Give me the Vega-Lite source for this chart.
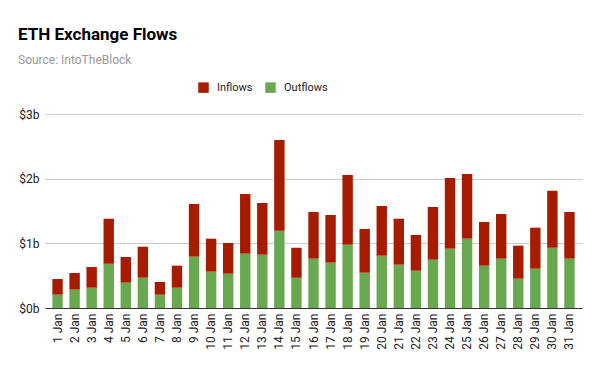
{
  "$schema": "https://vega.github.io/schema/vega-lite/v6.json",
  "width": 537,
  "height": 194,
  "autosize": {"type": "none"},
  "padding": {"left": 45, "top": 114, "right": 18, "bottom": 63},
  "background": "white",
  "title": {
    "text": "ETH Exchange Flows",
    "subtitle": "Source: IntoTheBlock",
    "anchor": "start",
    "frame": "group",
    "dx": -27,
    "offset": 15,
    "font": "Roboto",
    "fontSize": 17,
    "fontWeight": "bold",
    "color": "#000000",
    "subtitleFont": "Roboto",
    "subtitleFontSize": 12,
    "subtitleColor": "#999999",
    "subtitlePadding": 11
  },
  "data": {
    "values": [
      {"day": "1 Jan", "type": "Outflows", "value": 0.206}, {"day": "1 Jan", "type": "Inflows", "value": 0.242},
      {"day": "2 Jan", "type": "Outflows", "value": 0.284}, {"day": "2 Jan", "type": "Inflows", "value": 0.257},
      {"day": "3 Jan", "type": "Outflows", "value": 0.314}, {"day": "3 Jan", "type": "Inflows", "value": 0.320},
      {"day": "4 Jan", "type": "Outflows", "value": 0.686}, {"day": "4 Jan", "type": "Inflows", "value": 0.695},
      {"day": "5 Jan", "type": "Outflows", "value": 0.392}, {"day": "5 Jan", "type": "Inflows", "value": 0.397},
      {"day": "6 Jan", "type": "Outflows", "value": 0.469}, {"day": "6 Jan", "type": "Inflows", "value": 0.479},
      {"day": "7 Jan", "type": "Outflows", "value": 0.206}, {"day": "7 Jan", "type": "Inflows", "value": 0.196},
      {"day": "8 Jan", "type": "Outflows", "value": 0.314}, {"day": "8 Jan", "type": "Inflows", "value": 0.341},
      {"day": "9 Jan", "type": "Outflows", "value": 0.794}, {"day": "9 Jan", "type": "Inflows", "value": 0.814},
      {"day": "10 Jan", "type": "Outflows", "value": 0.562}, {"day": "10 Jan", "type": "Inflows", "value": 0.510},
      {"day": "11 Jan", "type": "Outflows", "value": 0.531}, {"day": "11 Jan", "type": "Inflows", "value": 0.474},
      {"day": "12 Jan", "type": "Outflows", "value": 0.840}, {"day": "12 Jan", "type": "Inflows", "value": 0.923},
      {"day": "13 Jan", "type": "Outflows", "value": 0.825}, {"day": "13 Jan", "type": "Inflows", "value": 0.799},
      {"day": "14 Jan", "type": "Outflows", "value": 1.196}, {"day": "14 Jan", "type": "Inflows", "value": 1.402},
      {"day": "15 Jan", "type": "Outflows", "value": 0.469}, {"day": "15 Jan", "type": "Inflows", "value": 0.464},
      {"day": "16 Jan", "type": "Outflows", "value": 0.763}, {"day": "16 Jan", "type": "Inflows", "value": 0.722},
      {"day": "17 Jan", "type": "Outflows", "value": 0.701}, {"day": "17 Jan", "type": "Inflows", "value": 0.737},
      {"day": "18 Jan", "type": "Outflows", "value": 0.979}, {"day": "18 Jan", "type": "Inflows", "value": 1.078},
      {"day": "19 Jan", "type": "Outflows", "value": 0.546}, {"day": "19 Jan", "type": "Inflows", "value": 0.676},
      {"day": "20 Jan", "type": "Outflows", "value": 0.809}, {"day": "20 Jan", "type": "Inflows", "value": 0.768},
      {"day": "21 Jan", "type": "Outflows", "value": 0.670}, {"day": "21 Jan", "type": "Inflows", "value": 0.711},
      {"day": "22 Jan", "type": "Outflows", "value": 0.577}, {"day": "22 Jan", "type": "Inflows", "value": 0.552},
      {"day": "23 Jan", "type": "Outflows", "value": 0.747}, {"day": "23 Jan", "type": "Inflows", "value": 0.815},
      {"day": "24 Jan", "type": "Outflows", "value": 0.918}, {"day": "24 Jan", "type": "Inflows", "value": 1.092},
      {"day": "25 Jan", "type": "Outflows", "value": 1.072}, {"day": "25 Jan", "type": "Inflows", "value": 1.000},
      {"day": "26 Jan", "type": "Outflows", "value": 0.655}, {"day": "26 Jan", "type": "Inflows", "value": 0.675},
      {"day": "27 Jan", "type": "Outflows", "value": 0.763}, {"day": "27 Jan", "type": "Inflows", "value": 0.691},
      {"day": "28 Jan", "type": "Outflows", "value": 0.454}, {"day": "28 Jan", "type": "Inflows", "value": 0.510},
      {"day": "29 Jan", "type": "Outflows", "value": 0.608}, {"day": "29 Jan", "type": "Inflows", "value": 0.634},
      {"day": "30 Jan", "type": "Outflows", "value": 0.933}, {"day": "30 Jan", "type": "Inflows", "value": 0.881},
      {"day": "31 Jan", "type": "Outflows", "value": 0.763}, {"day": "31 Jan", "type": "Inflows", "value": 0.722}
    ]
  },
  "mark": {"type": "bar"},
  "encoding": {
    "x": {
      "field": "day",
      "type": "nominal",
      "sort": null,
      "scale": {"paddingInner": 0.39, "paddingOuter": 0.43},
      "axis": {
        "title": null,
        "labelAngle": -90,
        "labelFont": "Roboto",
        "labelFontSize": 12,
        "labelColor": "#222222",
        "labelPadding": 5,
        "ticks": false,
        "domainColor": "#333333",
        "domainWidth": 1,
        "grid": false
      }
    },
    "y": {
      "field": "value",
      "type": "quantitative",
      "stack": "zero",
      "scale": {"domain": [0, 3]},
      "axis": {
        "title": null,
        "values": [0, 1, 2, 3],
        "labelExpr": "'$' + datum.value + 'b'",
        "labelFont": "Roboto",
        "labelFontSize": 12,
        "labelColor": "#222222",
        "labelPadding": 6,
        "ticks": false,
        "domain": false,
        "gridColor": "#cccccc",
        "gridWidth": 1
      }
    },
    "color": {
      "field": "type",
      "type": "nominal",
      "scale": {"domain": ["Inflows", "Outflows"], "range": ["#a61c00", "#6aa84f"]},
      "legend": {
        "title": null,
        "orient": "none",
        "direction": "horizontal",
        "legendX": 153,
        "legendY": -32,
        "symbolType": "square",
        "symbolSize": 110,
        "symbolStrokeWidth": 0,
        "labelFont": "Roboto",
        "labelFontSize": 11,
        "labelColor": "#222222",
        "labelOffset": 8,
        "columnPadding": 12
      }
    },
    "order": {"field": "type", "sort": "descending"}
  },
  "config": {"view": {"stroke": null}}
}
